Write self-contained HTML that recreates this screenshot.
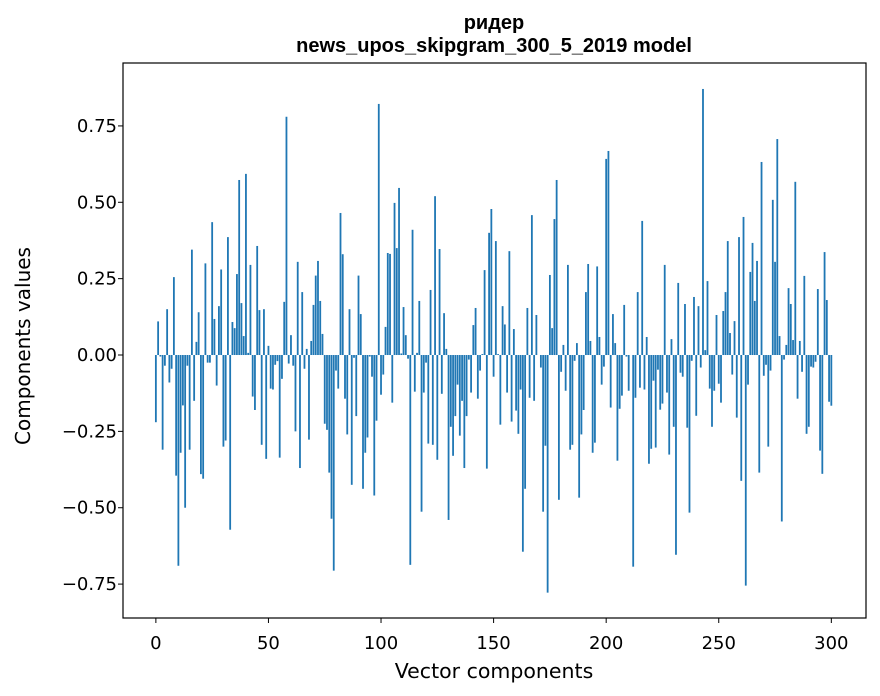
<!DOCTYPE html>
<html><head><meta charset="utf-8"><style>
body{margin:0;background:#fff;}
svg{display:block;font-family:"DejaVu Sans","Liberation Sans",sans-serif;}
</style></head><body>
<svg id="chart" width="880" height="696" viewBox="0 0 880 696">
<text x="494" y="29" text-anchor="middle" font-size="20" font-weight="bold" font-family="Liberation Sans, sans-serif">ридер</text>
<text x="494" y="52" text-anchor="middle" font-size="20" font-weight="bold" font-family="Liberation Sans, sans-serif">news_upos_skipgram_300_5_2019 model</text>
<g id="bars"></g>
<g id="axes"></g>
<rect x="123" y="63" width="743" height="555" fill="none" stroke="#000" stroke-width="1.2"/>
<text x="494" y="678" text-anchor="middle" font-size="20.5">Vector components</text>
<text transform="translate(30,346) rotate(-90)" text-anchor="middle" font-size="20">Components values</text>
</svg>
<script>
const values = [-0.22,0.11,-0.005,-0.31,-0.035,0.15,-0.09,-0.045,0.255,-0.395,
-0.69,-0.32,-0.165,-0.50,-0.035,-0.31,0.345,-0.15,0.043,0.14,
-0.39,-0.405,0.30,-0.025,-0.025,0.435,0.118,-0.10,0.16,0.28,
-0.30,-0.28,0.386,-0.572,0.108,0.088,0.265,0.573,0.17,0.062,
0.593,0.007,0.295,-0.136,-0.18,0.357,0.147,-0.294,0.15,-0.34,
0.03,-0.11,-0.113,-0.032,-0.02,-0.336,-0.078,0.174,0.78,-0.028,
0.065,-0.035,-0.25,0.305,-0.37,0.206,-0.045,0.02,-0.277,0.046,
0.164,0.26,0.308,0.177,0.069,-0.225,-0.245,-0.385,-0.536,-0.706,
-0.051,-0.11,0.465,0.33,-0.143,-0.26,0.15,-0.425,-0.009,-0.2,
0.26,0.134,-0.438,-0.32,-0.27,-0.005,-0.071,-0.46,-0.215,0.822,
-0.13,-0.064,0.092,0.334,0.331,-0.156,0.498,0.35,0.547,0.005,
0.157,0.065,-0.012,-0.687,0.41,-0.12,0.007,0.177,-0.513,-0.123,
-0.025,-0.29,0.213,-0.294,0.52,-0.343,0.347,-0.127,0.137,0.02,
-0.54,-0.235,-0.33,-0.2,-0.097,-0.264,-0.15,-0.37,-0.2,-0.015,
-0.123,0.098,0.154,-0.143,-0.051,0.003,0.278,-0.372,0.4,0.478,
-0.071,0.373,0.003,-0.228,0.16,0.10,-0.123,0.34,-0.218,0.085,
-0.182,-0.258,-0.113,-0.644,-0.438,0.154,-0.14,0.458,-0.15,0.131,
0.0,-0.041,-0.513,-0.297,-0.778,0.262,0.088,0.445,0.573,-0.474,
-0.055,0.033,-0.117,0.295,-0.31,-0.294,-0.019,0.039,-0.467,-0.26,
-0.18,0.206,0.298,0.046,-0.32,-0.287,0.29,0.059,-0.097,-0.038,
0.642,0.668,-0.172,0.134,0.039,-0.346,-0.176,-0.133,0.164,-0.005,
-0.117,0.0,-0.693,-0.14,0.206,-0.107,0.439,-0.113,0.059,-0.356,
-0.307,-0.084,-0.303,-0.048,-0.179,-0.159,0.295,-0.123,-0.326,0.052,
-0.235,-0.654,0.236,-0.058,-0.071,0.167,-0.238,-0.516,-0.019,0.19,
-0.199,0.16,-0.041,0.871,0.016,0.242,-0.11,-0.235,-0.117,0.131,
-0.094,-0.156,0.144,0.206,0.373,0.072,-0.064,0.111,-0.205,0.386,
-0.412,0.452,-0.755,-0.097,0.272,0.367,0.177,0.308,-0.385,0.632,
-0.068,-0.032,-0.3,-0.051,0.508,0.305,0.707,0.062,-0.545,-0.015,
0.033,0.219,0.167,0.049,0.567,-0.143,0.046,-0.055,0.259,-0.258,
-0.235,-0.038,-0.041,-0.022,0.216,-0.313,-0.389,0.337,0.18,-0.153,
-0.166];
const xTicks = [0,50,100,150,200,250,300];
const yTicks = [0.75,0.50,0.25,0.00,-0.25,-0.50,-0.75];
const yTickLabels = ["0.75","0.50","0.25","0.00","\u22120.25","\u22120.50","\u22120.75"];

const NS="http://www.w3.org/2000/svg";
const xMin=-14.6, xMax=315.4, yMin=-0.861, yMax=0.956;
const L=123,R=866,T=63,B=618;
function xs(v){return L+(v-xMin)/(xMax-xMin)*(R-L);}
function ys(v){return B-(v-yMin)/(yMax-yMin)*(B-T);}
const bars=document.getElementById('bars');
values.forEach((v,i)=>{
  const r=document.createElementNS(NS,'rect');
  const x0=xs(i-0.4), x1=xs(i+0.4);
  const y0=ys(Math.max(v,0)), y1=ys(Math.min(v,0));
  r.setAttribute('x',x0);r.setAttribute('width',x1-x0);
  r.setAttribute('y',y0);r.setAttribute('height',Math.max(y1-y0,0.01));
  r.setAttribute('fill','#1f77b4');
  
  
  bars.appendChild(r);
});
const axes=document.getElementById('axes');
xTicks.forEach(t=>{
  const x=xs(t);
  const l=document.createElementNS(NS,'line');
  l.setAttribute('x1',x);l.setAttribute('x2',x);l.setAttribute('y1',B);l.setAttribute('y2',B+5);
  l.setAttribute('stroke','#000');
  
  
  axes.appendChild(l);
  const tx=document.createElementNS(NS,'text');
  tx.setAttribute('x',x);tx.setAttribute('y',B+31);tx.setAttribute('text-anchor','middle');tx.setAttribute('font-size','18');
  tx.textContent=t;
  
  
  axes.appendChild(tx);
});
yTicks.forEach((t,i)=>{
  const y=ys(t);
  const l=document.createElementNS(NS,'line');
  l.setAttribute('x1',L-5);l.setAttribute('x2',L);l.setAttribute('y1',y);l.setAttribute('y2',y);
  l.setAttribute('stroke','#000');
  
  
  axes.appendChild(l);
  const tx=document.createElementNS(NS,'text');
  tx.setAttribute('x',L-6);tx.setAttribute('y',y+6);tx.setAttribute('text-anchor','end');tx.setAttribute('font-size','18');
  tx.textContent=yTickLabels[i];
  
  
  axes.appendChild(tx);
});
</script>
</body></html>
